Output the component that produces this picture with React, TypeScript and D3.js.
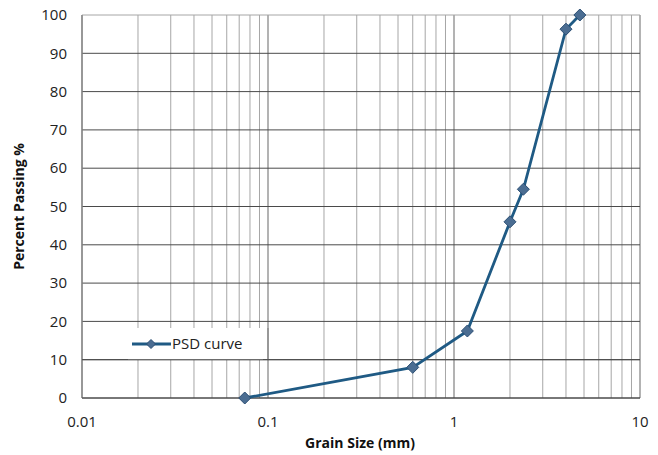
import React from "react";
import * as d3 from "d3";

const grainSize = [0.075, 0.6, 1.18, 2.0, 2.36, 4.0, 4.75];
const percentPassing = [0, 8, 17.5, 46, 54.5, 96.3, 100];
const xTickValues = [0.01, 0.1, 1, 10];
const xTickLabels = ["0.01", "0.1", "1", "10"];
const yTickValues = [0, 10, 20, 30, 40, 50, 60, 70, 80, 90, 100];
const seriesName = "PSD curve";

const W = 658, H = 455;
const M = { left: 82, right: 18, top: 15, bottom: 57 };

export default function App() {
  const x = d3.scaleLog().domain([0.01, 10]).range([M.left, W - M.right]);
  const y = d3.scaleLinear().domain([0, 100]).range([H - M.bottom, M.top]);
  const minor: number[] = [];
  for (const dec of [0.01, 0.1, 1]) for (let k = 2; k <= 9; k++) minor.push(dec * k);
  const line = d3.line<number>().x((_, i) => x(grainSize[i])).y((d) => y(d));
  const diamond = (cx: number, cy: number, r: number) =>
    `M${cx},${cy - r}L${cx + r},${cy}L${cx},${cy + r}L${cx - r},${cy}Z`;
  const font = "'Open Sans', sans-serif";
  const lineColor = "#1f5a84";
  const markFill = "#4b6d92";
  const markStroke = "#2c4f74";
  const lg = { x: 128, y: 328, w: 135, h: 32 };
  return (
    <svg width={W} height={H} style={{ position: "absolute", left: 0, top: 0 }}>
      <rect width={W} height={H} fill="#fff" />
      {minor.map((v) => (
        <line key={"m" + v} x1={x(v)} x2={x(v)} y1={y(0)} y2={y(100)} stroke="#a6a6a6" strokeWidth={1} />
      ))}
      {xTickValues.map((v) => (
        <line key={"d" + v} x1={x(v)} x2={x(v)} y1={y(0)} y2={y(100)} stroke="#8a8a8a" strokeWidth={1.3} />
      ))}
      {yTickValues.map((v) => (
        <line key={"h" + v} x1={M.left} x2={W - M.right} y1={y(v)} y2={y(v)} stroke={v === 100 ? "#a6a6a6" : "#4a4a4a"} strokeWidth={1} />
      ))}
      <line x1={M.left} x2={M.left} y1={y(0)} y2={y(100)} stroke="#8a8a8a" strokeWidth={1.3} />
      <rect x={lg.x} y={lg.y} width={lg.w} height={lg.h} fill="#fff" />
      <line x1={x(0.1)} x2={x(0.1)} y1={lg.y} y2={lg.y + lg.h} stroke="#8a8a8a" strokeWidth={1.3} />
      <line x1={M.left} x2={W - M.right} y1={y(10)} y2={y(10)} stroke="#4a4a4a" strokeWidth={1} />
      <line x1={M.left} x2={W - M.right} y1={y(0)} y2={y(0)} stroke="#4a4a4a" strokeWidth={1} />
      <path d={line(percentPassing) || ""} fill="none" stroke={lineColor} strokeWidth={2.8} />
      {percentPassing.map((v, i) => (
        <path key={"p" + i} d={diamond(x(grainSize[i]), y(v), 6)} fill={markFill} stroke={markStroke} strokeWidth={1} />
      ))}
      {yTickValues.map((v) => (
        <text key={"yt" + v} x={67} y={y(v)} dy="0.35em" textAnchor="end" fontFamily={font} fontSize={15} fill="#222">
          {v}
        </text>
      ))}
      {xTickValues.map((v, i) => (
        <text key={"xt" + v} x={x(v)} y={427} textAnchor="middle" fontFamily={font} fontSize={15} fill="#222">
          {xTickLabels[i]}
        </text>
      ))}
      <text x={360} y={448} textAnchor="middle" fontFamily={font} fontSize={14} fontWeight="bold" fill="#111">
        Grain Size (mm)
      </text>
      <text transform={`translate(24,${(y(0) + y(100)) / 2}) rotate(-90)`} textAnchor="middle" fontFamily={font} fontSize={14} fontWeight="bold" fill="#111">
        Percent Passing %
      </text>
      <line x1={132} x2={171} y1={344} y2={344} stroke={lineColor} strokeWidth={2.8} />
      <path d={diamond(151, 344, 4.5)} fill={markFill} stroke={markStroke} strokeWidth={1} />
      <text x={172} y={344} dy="0.35em" fontFamily={font} fontSize={15} fill="#222">
        {seriesName}
      </text>
    </svg>
  );
}
